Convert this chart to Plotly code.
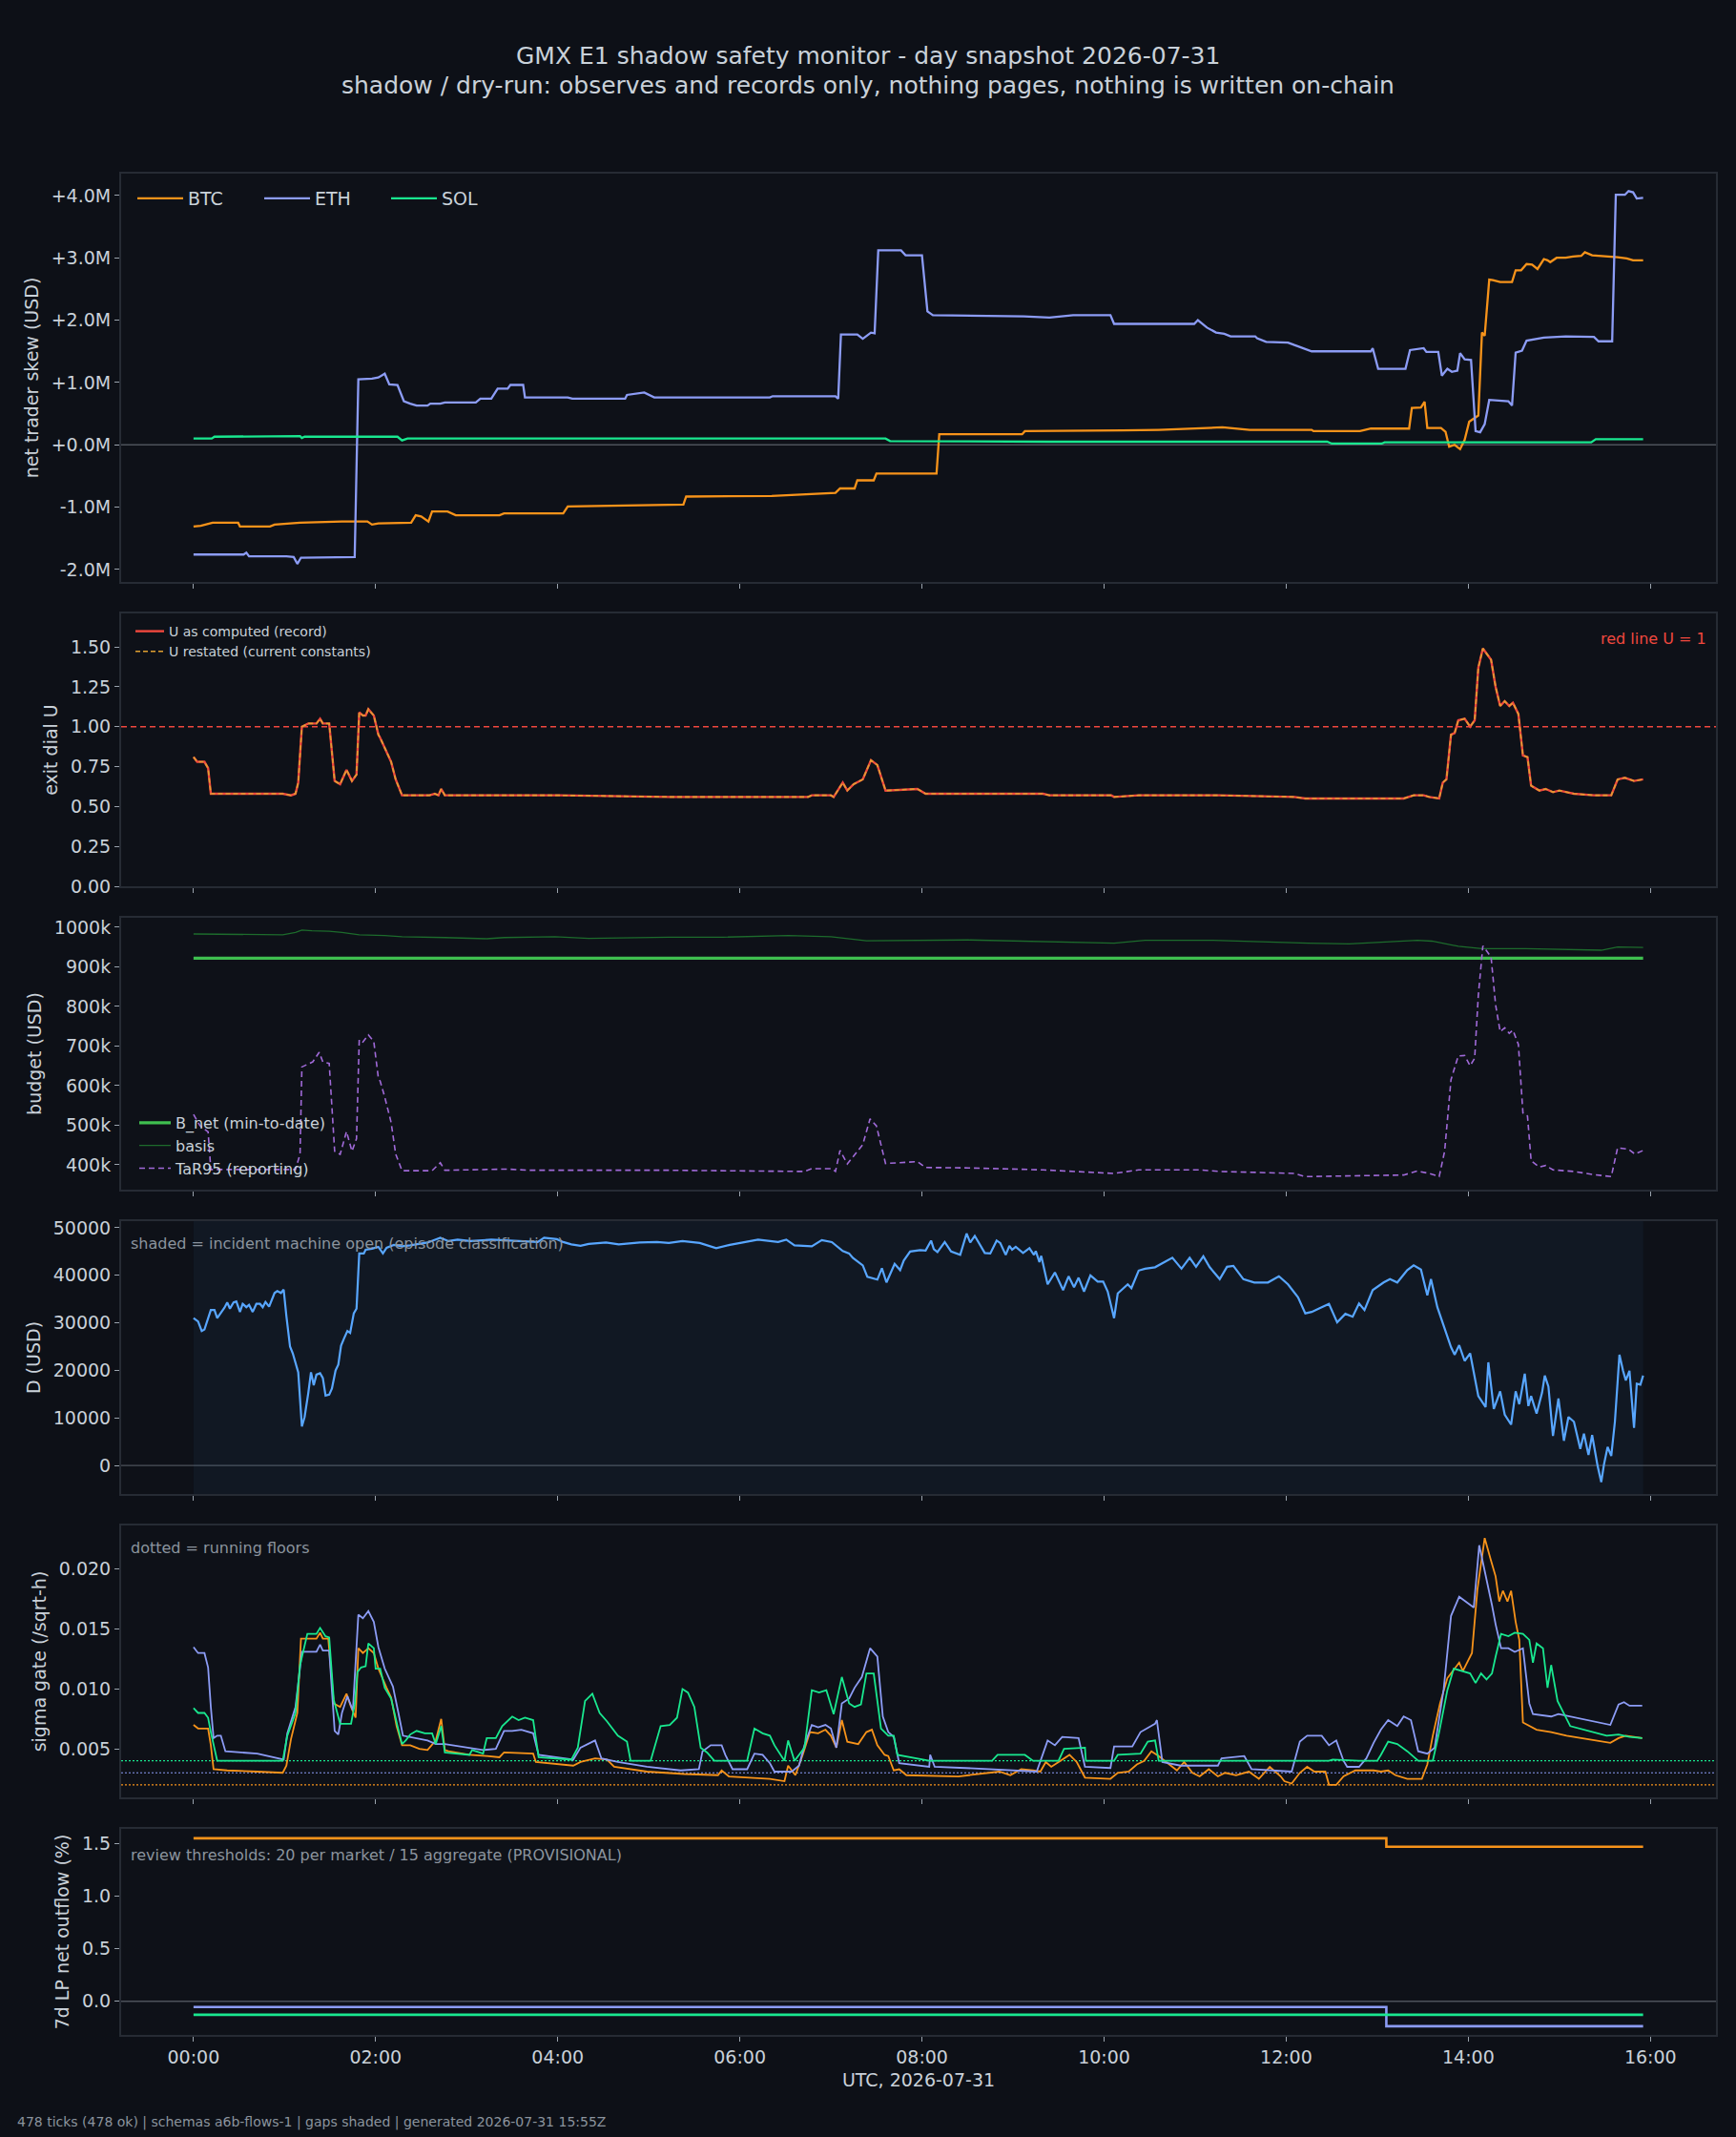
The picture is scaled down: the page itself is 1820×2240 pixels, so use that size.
import pandas as pd
import plotly.graph_objects as go

# ---------------- data (hours since 00:00 UTC, value) ----------------
BASE = pd.Timestamp("2026-07-31 00:00:00")

skew_btc = [(0.00,-1.31),(0.08,-1.30),(0.21,-1.25),(0.49,-1.25),(0.51,-1.31),(0.84,-1.31),(0.89,-1.28),(1.17,-1.25),(1.63,-1.23),(1.91,-1.23),(1.96,-1.28),(2.03,-1.26),(2.39,-1.25),(2.44,-1.13),(2.50,-1.15),(2.58,-1.23),(2.62,-1.07),(2.79,-1.07),(2.88,-1.13),(3.36,-1.13),(3.41,-1.10),(4.06,-1.10),(4.11,-0.99),(5.38,-0.96),(5.41,-0.83),(6.35,-0.82),(7.05,-0.77),(7.10,-0.70),(7.26,-0.70),(7.29,-0.57),(7.47,-0.57),(7.50,-0.46),(8.16,-0.46),(8.19,0.17),(9.10,0.17),(9.13,0.22),(10.20,0.23),(10.60,0.24),(11.30,0.28),(11.60,0.24),(12.28,0.24),(12.30,0.22),(12.81,0.22),(12.93,0.26),(13.35,0.26),(13.38,0.59),(13.48,0.60),(13.52,0.69),(13.55,0.27),(13.70,0.27),(13.75,0.21),(13.79,-0.03),(13.85,0.00),(13.91,-0.07),(13.96,0.08),(14.01,0.37),(14.11,0.47),(14.15,1.80),(14.18,1.75),(14.23,2.65),(14.27,2.64),(14.35,2.61),(14.48,2.61),(14.52,2.80),(14.58,2.80),(14.64,2.90),(14.70,2.89),(14.76,2.82),(14.83,2.98),(14.87,2.96),(14.90,2.93),(14.97,3.00),(15.07,3.00),(15.15,3.02),(15.24,3.03),(15.28,3.09),(15.36,3.04),(15.50,3.03),(15.64,3.01),(15.74,2.99),(15.81,2.96),(15.92,2.96)]
skew_eth = [(0.00,-1.76),(0.55,-1.76),(0.58,-1.73),(0.61,-1.79),(1.02,-1.79),(1.10,-1.80),(1.14,-1.91),(1.18,-1.81),(1.77,-1.80),(1.81,1.05),(1.96,1.06),(2.03,1.08),(2.10,1.14),(2.15,0.97),(2.24,0.96),(2.31,0.70),(2.38,0.66),(2.45,0.63),(2.57,0.63),(2.60,0.66),(2.71,0.66),(2.76,0.68),(3.10,0.68),(3.15,0.74),(3.27,0.74),(3.34,0.90),(3.45,0.90),(3.48,0.96),(3.62,0.96),(3.64,0.76),(4.11,0.76),(4.16,0.74),(4.74,0.74),(4.76,0.80),(4.95,0.84),(5.06,0.76),(6.33,0.76),(6.36,0.78),(7.05,0.78),(7.08,0.74),(7.11,1.77),(7.29,1.77),(7.35,1.70),(7.44,1.80),(7.48,1.79),(7.52,3.12),(7.77,3.12),(7.82,3.04),(8.00,3.04),(8.06,2.14),(8.12,2.08),(9.12,2.06),(9.40,2.04),(9.66,2.08),(10.07,2.08),(10.11,1.94),(10.99,1.94),(11.03,2.00),(11.13,1.88),(11.23,1.80),(11.32,1.78),(11.39,1.74),(11.66,1.74),(11.68,1.71),(11.78,1.65),(12.02,1.64),(12.09,1.60),(12.18,1.55),(12.28,1.50),(12.93,1.50),(12.95,1.55),(13.01,1.22),(13.31,1.22),(13.36,1.52),(13.51,1.55),(13.54,1.49),(13.67,1.49),(13.71,1.11),(13.77,1.22),(13.82,1.17),(13.88,1.19),(13.91,1.47),(13.96,1.37),(14.03,1.36),(14.08,0.22),(14.13,0.20),(14.18,0.33),(14.23,0.72),(14.44,0.70),(14.48,0.63),(14.52,1.48),(14.59,1.51),(14.64,1.67),(14.83,1.72),(15.07,1.74),(15.38,1.73),(15.43,1.66),(15.58,1.66),(15.62,4.01),(15.72,4.01),(15.76,4.07),(15.81,4.05),(15.85,3.95),(15.92,3.96)]
skew_sol = [(0.00,0.10),(0.20,0.10),(0.23,0.13),(1.17,0.14),(1.19,0.11),(1.22,0.13),(2.24,0.13),(2.29,0.07),(2.35,0.10),(5.20,0.10),(7.60,0.10),(7.65,0.06),(9.40,0.05),(12.45,0.05),(12.50,0.02),(13.05,0.02),(13.08,0.04),(15.35,0.04),(15.40,0.09),(15.92,0.09)]

exit_u = [(0.00,0.81),(0.04,0.78),(0.12,0.78),(0.16,0.74),(0.19,0.58),(0.98,0.58),(1.07,0.57),(1.12,0.58),(1.15,0.65),(1.19,1.00),(1.26,1.02),(1.35,1.02),(1.39,1.05),(1.42,1.02),(1.49,1.02),(1.55,0.66),(1.61,0.64),(1.68,0.73),(1.74,0.66),(1.79,0.70),(1.82,1.09),(1.86,1.07),(1.89,1.07),(1.92,1.11),(1.98,1.07),(2.03,0.95),(2.05,0.93),(2.10,0.87),(2.17,0.78),(2.22,0.67),(2.29,0.57),(2.59,0.57),(2.65,0.58),(2.69,0.57),(2.72,0.61),(2.76,0.57),(3.50,0.57),(4.02,0.57),(5.22,0.56),(6.75,0.56),(6.79,0.57),(7.00,0.57),(7.03,0.56),(7.13,0.65),(7.18,0.60),(7.25,0.64),(7.35,0.67),(7.44,0.79),(7.51,0.76),(7.60,0.60),(7.95,0.61),(8.04,0.58),(9.33,0.58),(9.40,0.57),(10.08,0.57),(10.11,0.56),(10.38,0.57),(11.05,0.57),(11.27,0.57),(12.09,0.56),(12.21,0.55),(13.29,0.55),(13.40,0.57),(13.51,0.57),(13.57,0.56),(13.68,0.55),(13.72,0.65),(13.76,0.67),(13.81,0.95),(13.85,0.96),(13.89,1.04),(13.96,1.05),(14.02,1.00),(14.07,1.04),(14.11,1.37),(14.16,1.49),(14.25,1.42),(14.30,1.25),(14.35,1.13),(14.40,1.16),(14.45,1.13),(14.49,1.15),(14.55,1.08),(14.60,0.82),(14.65,0.81),(14.69,0.63),(14.78,0.60),(14.85,0.61),(14.93,0.59),(15.00,0.60),(15.16,0.58),(15.38,0.57),(15.57,0.57),(15.64,0.67),(15.72,0.68),(15.82,0.66),(15.92,0.67)]
exit_u_restated = list(exit_u)

budget_bnet = [(0.00,922),(15.92,922)]
budget_basis = [(0.00,983),(0.98,981),(1.12,987),(1.19,993),(1.30,991),(1.49,990),(1.63,987),(1.82,981),(2.10,979),(2.29,976),(2.76,974),(3.22,971),(3.41,974),(3.97,976),(4.34,972),(5.22,975),(5.82,975),(6.53,979),(7.00,976),(7.39,966),(8.51,968),(9.37,964),(10.11,960),(10.45,967),(11.20,967),(12.24,960),(12.69,958),(13.44,967),(13.60,965),(13.89,952),(14.15,946),(14.63,946),(15.46,942),(15.64,950),(15.92,949)]
budget_tar95 = [(0.00,527),(0.07,499),(0.16,483),(0.19,388),(1.12,388),(1.17,427),(1.19,647),(1.31,660),(1.38,684),(1.42,660),(1.49,656),(1.55,434),(1.61,426),(1.68,484),(1.74,434),(1.79,466),(1.82,716),(1.86,710),(1.92,728),(1.98,711),(2.03,619),(2.05,611),(2.10,571),(2.17,507),(2.22,427),(2.29,385),(2.62,385),(2.71,405),(2.76,386),(3.32,387),(3.45,389),(3.69,386),(5.22,386),(6.71,383),(6.79,390),(7.01,390),(7.05,383),(7.10,436),(7.18,402),(7.25,422),(7.35,451),(7.43,516),(7.50,498),(7.60,403),(7.95,408),(8.04,393),(8.51,392),(9.33,387),(10.11,378),(10.38,387),(11.05,387),(11.27,383),(12.09,378),(12.21,370),(13.29,374),(13.44,384),(13.57,378),(13.68,370),(13.74,434),(13.81,615),(13.89,675),(13.96,676),(14.02,650),(14.07,669),(14.11,828),(14.16,953),(14.25,925),(14.30,804),(14.35,736),(14.40,746),(14.45,732),(14.49,740),(14.55,704),(14.60,531),(14.65,523),(14.69,410),(14.78,394),(14.85,398),(14.93,387),(15.16,383),(15.38,375),(15.57,370),(15.64,443),(15.76,439),(15.83,427),(15.92,436)]

d_usd = [(0.00,31000),(0.05,30300),(0.09,28300),(0.12,28600),(0.19,32700),(0.23,32700),(0.26,31000),(0.30,32000),(0.34,33200),(0.37,34300),(0.40,33000),(0.44,34300),(0.47,34500),(0.51,32300),(0.54,34000),(0.58,33300),(0.61,33800),(0.65,32300),(0.69,34000),(0.73,34000),(0.76,33300),(0.79,34400),(0.83,33400),(0.89,36300),(0.92,36700),(0.96,36300),(0.99,37000),(1.02,31400),(1.06,25000),(1.09,23600),(1.15,19600),(1.19,8200),(1.22,10200),(1.26,15200),(1.29,19600),(1.32,16900),(1.35,19100),(1.39,19400),(1.42,18400),(1.45,14700),(1.49,14900),(1.52,16200),(1.56,20000),(1.59,21200),(1.62,25200),(1.65,26600),(1.69,28300),(1.72,27900),(1.76,32000),(1.79,33000),(1.82,44600),(1.87,44600),(1.89,45400),(1.96,45600),(2.03,46000),(2.08,44600),(2.12,45800),(2.20,46400),(2.29,46100),(2.38,46300),(2.57,46900),(2.71,47900),(2.80,47200),(2.90,47500),(3.04,47200),(3.27,47500),(3.50,47300),(3.78,47000),(3.85,47900),(3.99,47600),(4.06,47000),(4.15,46500),(4.25,46200),(4.34,46600),(4.53,46900),(4.67,46500),(4.90,46900),(5.09,47000),(5.22,46800),(5.37,47200),(5.56,46800),(5.74,45700),(5.89,46400),(6.12,47200),(6.20,47500),(6.42,47000),(6.51,47500),(6.60,46300),(6.79,46100),(6.90,47400),(7.01,47000),(7.13,45100),(7.20,44600),(7.24,43700),(7.35,42100),(7.40,39700),(7.46,39400),(7.51,39100),(7.56,41500),(7.61,38500),(7.70,42400),(7.76,41100),(7.80,43100),(7.87,45000),(7.98,45300),(8.04,45200),(8.10,47300),(8.13,45500),(8.17,44900),(8.25,47000),(8.32,45000),(8.42,44300),(8.49,48800),(8.53,46900),(8.58,48300),(8.69,44700),(8.75,44600),(8.82,47300),(8.86,46800),(8.92,44300),(8.96,46200),(8.99,45400),(9.03,46000),(9.11,44700),(9.18,45700),(9.23,44300),(9.25,45100),(9.29,42800),(9.31,44100),(9.38,38100),(9.46,40600),(9.50,38800),(9.55,36900),(9.61,39800),(9.67,37500),(9.72,39500),(9.78,36600),(9.85,40000),(9.93,38700),(9.99,38700),(10.04,36600),(10.11,31000),(10.15,36200),(10.26,38100),(10.30,37300),(10.38,41000),(10.45,41400),(10.56,41700),(10.63,42400),(10.75,43700),(10.85,41400),(10.94,43700),(11.01,41800),(11.09,44000),(11.16,41700),(11.27,39200),(11.35,41800),(11.42,42000),(11.53,39200),(11.65,38500),(11.80,38500),(11.92,39800),(12.02,38100),(12.13,35400),(12.21,32000),(12.28,32300),(12.39,33300),(12.47,34000),(12.56,30100),(12.65,31900),(12.73,31300),(12.80,34100),(12.86,32700),(12.95,36900),(13.07,38500),(13.14,39200),(13.22,38500),(13.33,41100),(13.40,42100),(13.48,41200),(13.55,35800),(13.59,39200),(13.66,33300),(13.74,29000),(13.81,24900),(13.85,23300),(13.90,25300),(13.96,22000),(14.02,23600),(14.11,14600),(14.19,12300),(14.22,21700),(14.28,11900),(14.35,15600),(14.40,10700),(14.47,8600),(14.52,15600),(14.56,12900),(14.62,19300),(14.66,12500),(14.69,14600),(14.75,10900),(14.81,15300),(14.84,18900),(14.88,16600),(14.93,6200),(14.99,14100),(15.05,5200),(15.10,10200),(15.16,9200),(15.23,3500),(15.27,6700),(15.32,2200),(15.36,6400),(15.42,-100),(15.46,-3500),(15.49,200),(15.53,3900),(15.57,2000),(15.61,9200),(15.66,23300),(15.70,19900),(15.73,17900),(15.77,19900),(15.82,7900),(15.85,17200),(15.89,17000),(15.92,18900)]
incident_open = (0.00, 15.92)

sigma_btc = [(0.00,0.0070),(0.05,0.0067),(0.16,0.0067),(0.19,0.0053),(0.22,0.0033),(0.37,0.0032),(0.70,0.0031),(0.98,0.0030),(1.02,0.0036),(1.07,0.0058),(1.14,0.0080),(1.18,0.0142),(1.35,0.0142),(1.39,0.0147),(1.42,0.0142),(1.48,0.0142),(1.54,0.0088),(1.61,0.0085),(1.68,0.0096),(1.73,0.0085),(1.78,0.0076),(1.81,0.0134),(1.86,0.0130),(1.92,0.0134),(1.98,0.0130),(2.03,0.0117),(2.12,0.0101),(2.17,0.0093),(2.23,0.0069),(2.29,0.0053),(2.38,0.0053),(2.48,0.0050),(2.57,0.0049),(2.66,0.0057),(2.72,0.0075),(2.76,0.0049),(2.80,0.0048),(3.03,0.0045),(3.22,0.0044),(3.36,0.0043),(3.41,0.0047),(3.73,0.0046),(3.76,0.0039),(4.17,0.0036),(4.25,0.0039),(4.41,0.0042),(4.54,0.0041),(4.62,0.0035),(4.98,0.0031),(5.39,0.0029),(5.76,0.0028),(5.80,0.0032),(5.88,0.0027),(6.33,0.0025),(6.49,0.0023),(6.53,0.0036),(6.61,0.0028),(6.69,0.0045),(6.77,0.0064),(6.86,0.0063),(6.94,0.0066),(7.00,0.0061),(7.06,0.0051),(7.12,0.0074),(7.18,0.0056),(7.30,0.0054),(7.39,0.0064),(7.45,0.0066),(7.51,0.0053),(7.59,0.0045),(7.63,0.0044),(7.69,0.0032),(7.75,0.0033),(7.83,0.0028),(8.40,0.0027),(8.73,0.0030),(8.85,0.0031),(8.97,0.0028),(9.09,0.0033),(9.22,0.0032),(9.30,0.0031),(9.36,0.0039),(9.42,0.0035),(9.50,0.0039),(9.58,0.0043),(9.62,0.0045),(9.70,0.0039),(9.79,0.0026),(10.07,0.0025),(10.15,0.0030),(10.27,0.0031),(10.36,0.0037),(10.44,0.0040),(10.52,0.0048),(10.60,0.0044),(10.68,0.0039),(10.80,0.0032),(10.88,0.0039),(10.97,0.0030),(11.05,0.0027),(11.15,0.0033),(11.25,0.0027),(11.33,0.0030),(11.45,0.0028),(11.59,0.0031),(11.70,0.0025),(11.82,0.0035),(11.94,0.0027),(11.98,0.0023),(12.06,0.0021),(12.15,0.0030),(12.23,0.0035),(12.31,0.0031),(12.43,0.0031),(12.47,0.0020),(12.55,0.0020),(12.63,0.0027),(12.76,0.0032),(12.88,0.0032),(12.96,0.0032),(13.04,0.0031),(13.12,0.0032),(13.20,0.0028),(13.33,0.0025),(13.49,0.0025),(13.55,0.0037),(13.61,0.0061),(13.69,0.0088),(13.77,0.0109),(13.90,0.0122),(13.94,0.0115),(14.00,0.0124),(14.04,0.0130),(14.10,0.0183),(14.18,0.0226),(14.25,0.0207),(14.30,0.0194),(14.34,0.0173),(14.38,0.0182),(14.43,0.0173),(14.47,0.0182),(14.52,0.0156),(14.56,0.0141),(14.60,0.0072),(14.67,0.0069),(14.75,0.0066),(14.91,0.0064),(15.08,0.0061),(15.32,0.0058),(15.56,0.0055),(15.65,0.0059),(15.73,0.0061),(15.91,0.0059)]
sigma_eth = [(0.00,0.0135),(0.05,0.0130),(0.12,0.0130),(0.16,0.0118),(0.19,0.0085),(0.22,0.0059),(0.26,0.0061),(0.30,0.0061),(0.35,0.0048),(0.70,0.0046),(0.99,0.0041),(1.03,0.0063),(1.12,0.0085),(1.17,0.0119),(1.19,0.0131),(1.35,0.0131),(1.39,0.0137),(1.42,0.0132),(1.49,0.0132),(1.55,0.0065),(1.59,0.0062),(1.63,0.0080),(1.69,0.0094),(1.75,0.0082),(1.81,0.0162),(1.86,0.0159),(1.92,0.0165),(1.98,0.0156),(2.03,0.0135),(2.10,0.0117),(2.19,0.0102),(2.25,0.0080),(2.30,0.0061),(2.57,0.0057),(2.66,0.0054),(2.76,0.0054),(3.18,0.0049),(3.32,0.0050),(3.41,0.0065),(3.50,0.0065),(3.60,0.0066),(3.73,0.0063),(3.79,0.0045),(4.17,0.0041),(4.25,0.0051),(4.33,0.0054),(4.41,0.0057),(4.48,0.0042),(4.66,0.0039),(4.98,0.0035),(5.35,0.0032),(5.55,0.0033),(5.59,0.0048),(5.68,0.0053),(5.80,0.0053),(5.84,0.0045),(5.92,0.0033),(6.08,0.0033),(6.16,0.0046),(6.25,0.0045),(6.33,0.0038),(6.38,0.0031),(6.57,0.0031),(6.65,0.0036),(6.71,0.0053),(6.79,0.0070),(6.86,0.0068),(6.94,0.0070),(7.00,0.0067),(7.06,0.0051),(7.12,0.0088),(7.20,0.0092),(7.26,0.0101),(7.34,0.0110),(7.43,0.0134),(7.51,0.0127),(7.57,0.0077),(7.63,0.0064),(7.69,0.0060),(7.75,0.0038),(8.08,0.0035),(8.09,0.0045),(8.14,0.0035),(8.48,0.0034),(8.77,0.0033),(9.05,0.0032),(9.26,0.0031),(9.38,0.0057),(9.46,0.0053),(9.54,0.0060),(9.72,0.0059),(9.79,0.0035),(10.07,0.0034),(10.11,0.0052),(10.31,0.0052),(10.40,0.0064),(10.56,0.0071),(10.58,0.0074),(10.64,0.0039),(10.84,0.0036),(11.25,0.0036),(11.29,0.0042),(11.54,0.0044),(11.62,0.0033),(12.06,0.0031),(12.15,0.0056),(12.23,0.0061),(12.39,0.0061),(12.47,0.0053),(12.55,0.0057),(12.63,0.0040),(12.67,0.0035),(12.80,0.0035),(12.88,0.0042),(12.96,0.0055),(13.04,0.0066),(13.12,0.0074),(13.22,0.0069),(13.29,0.0077),(13.37,0.0074),(13.45,0.0048),(13.55,0.0046),(13.63,0.0051),(13.73,0.0100),(13.81,0.0161),(13.90,0.0177),(14.02,0.0170),(14.06,0.0168),(14.12,0.0220),(14.18,0.0199),(14.26,0.0170),(14.30,0.0154),(14.36,0.0134),(14.44,0.0134),(14.51,0.0131),(14.60,0.0134),(14.67,0.0088),(14.71,0.0079),(14.83,0.0078),(14.91,0.0077),(14.99,0.0079),(15.12,0.0077),(15.32,0.0074),(15.56,0.0070),(15.65,0.0087),(15.71,0.0089),(15.77,0.0086),(15.91,0.0086)]
sigma_sol = [(0.00,0.0084),(0.05,0.0080),(0.12,0.0080),(0.16,0.0076),(0.19,0.0064),(0.26,0.0040),(0.98,0.0040),(1.03,0.0061),(1.12,0.0080),(1.17,0.0120),(1.25,0.0146),(1.35,0.0146),(1.39,0.0151),(1.45,0.0144),(1.49,0.0143),(1.54,0.0091),(1.61,0.0071),(1.73,0.0071),(1.77,0.0087),(1.80,0.0114),(1.84,0.0118),(1.89,0.0119),(1.92,0.0138),(1.98,0.0134),(2.00,0.0117),(2.05,0.0117),(2.10,0.0101),(2.17,0.0092),(2.24,0.0069),(2.29,0.0054),(2.33,0.0057),(2.38,0.0062),(2.45,0.0065),(2.54,0.0063),(2.62,0.0063),(2.66,0.0054),(2.72,0.0069),(2.76,0.0047),(3.03,0.0045),(3.06,0.0049),(3.18,0.0046),(3.22,0.0059),(3.32,0.0059),(3.39,0.0069),(3.50,0.0077),(3.57,0.0074),(3.64,0.0076),(3.73,0.0074),(3.79,0.0043),(4.15,0.0041),(4.22,0.0051),(4.30,0.0090),(4.38,0.0096),(4.46,0.0080),(4.54,0.0073),(4.66,0.0061),(4.76,0.0056),(4.80,0.0040),(5.02,0.0040),(5.13,0.0069),(5.23,0.0070),(5.31,0.0076),(5.37,0.0100),(5.43,0.0097),(5.50,0.0085),(5.57,0.0051),(5.64,0.0047),(5.72,0.0040),(6.08,0.0040),(6.16,0.0067),(6.25,0.0063),(6.33,0.0061),(6.38,0.0053),(6.49,0.0040),(6.53,0.0057),(6.60,0.0040),(6.71,0.0051),(6.79,0.0099),(6.87,0.0097),(6.95,0.0099),(7.03,0.0079),(7.12,0.0110),(7.20,0.0088),(7.26,0.0085),(7.33,0.0087),(7.39,0.0113),(7.47,0.0113),(7.55,0.0067),(7.63,0.0061),(7.69,0.0061),(7.73,0.0045),(8.08,0.0040),(8.77,0.0040),(8.83,0.0045),(9.13,0.0045),(9.22,0.0040),(9.50,0.0040),(9.56,0.0050),(9.79,0.0051),(9.80,0.0040),(10.11,0.0040),(10.15,0.0045),(10.40,0.0046),(10.48,0.0056),(10.56,0.0057),(10.60,0.0040),(12.47,0.0040),(12.51,0.0041),(12.80,0.0040),(13.00,0.0040),(13.04,0.0045),(13.12,0.0056),(13.22,0.0054),(13.33,0.0048),(13.45,0.0040),(13.61,0.0040),(13.68,0.0064),(13.77,0.0099),(13.84,0.0117),(13.94,0.0115),(14.02,0.0113),(14.08,0.0105),(14.14,0.0113),(14.20,0.0108),(14.26,0.0113),(14.30,0.0127),(14.36,0.0146),(14.44,0.0144),(14.51,0.0147),(14.60,0.0146),(14.67,0.0141),(14.71,0.0122),(14.75,0.0138),(14.82,0.0134),(14.87,0.0101),(14.91,0.0120),(14.98,0.0090),(15.12,0.0069),(15.32,0.0065),(15.52,0.0061),(15.65,0.0062),(15.77,0.0060),(15.91,0.0059)]
sigma_floors = {"BTC": 0.0020, "ETH": 0.0030, "SOL": 0.0040}

outflow_btc = [(0.00,1.55),(13.10,1.47),(15.92,1.47)]
outflow_eth = [(0.00,-0.055),(13.10,-0.237),(15.92,-0.237)]
outflow_sol = [(0.00,-0.128),(15.92,-0.128)]

markets = ["BTC", "ETH", "SOL"]
skew_ticks = [-2, -1, 0, 1, 2, 3, 4]
skew_ticklabels = ["-2.0M", "-1.0M", "+0.0M", "+1.0M", "+2.0M", "+3.0M", "+4.0M"]
budget_ticks = [400, 500, 600, 700, 800, 900, 1000]
budget_ticklabels = ["400k", "500k", "600k", "700k", "800k", "900k", "1000k"]
time_ticks = ["00:00", "02:00", "04:00", "06:00", "08:00", "10:00", "12:00", "14:00", "16:00"]

# ---------------- styling ----------------
FONT = "DejaVu Sans"
BG = "#0d1017"
PLOT_BG = "#0e1118"
FRAME = "#262b34"
TEXT = "#c9d1d9"
MUTED = "#8b949e"
ZERO = "#4d525a"
C = {"BTC": "#f7931a", "ETH": "#8c9cf5", "SOL": "#19e88f"}
W, H = 1820, 2240


def tx(pairs):
    return [BASE + pd.Timedelta(hours=h) for h, _ in pairs]


def ty(pairs):
    return [v for _, v in pairs]


def pfy(px):
    return 1 - px / H


def pfx(px):
    return px / W


X_DOM = [pfx(127), pfx(1799)]
panels = [(182, 610), (643, 929), (962, 1247), (1280, 1566), (1599, 1884), (1917, 2133)]
x_range = [BASE - pd.Timedelta(hours=0.795), BASE + pd.Timedelta(hours=16.72)]

fig = go.Figure()

# panel 1: skew
for name, data in zip(markets, [skew_btc, skew_eth, skew_sol]):
    fig.add_trace(go.Scatter(x=tx(data), y=ty(data), mode="lines", name=name,
                             line=dict(color=C[name], width=2.3), xaxis="x", yaxis="y",
                             legend="legend"))

# panel 2: exit dial
fig.add_trace(go.Scatter(x=tx(exit_u), y=ty(exit_u), mode="lines", name="U as computed (record)",
                         line=dict(color="#f0483e", width=2.4), xaxis="x2", yaxis="y2", legend="legend2"))
fig.add_trace(go.Scatter(x=tx(exit_u_restated), y=ty(exit_u_restated), mode="lines",
                         name="U restated (current constants)",
                         line=dict(color="#e0a030", width=1.6, dash="5px,3px"), xaxis="x2", yaxis="y2",
                         legend="legend2"))

# panel 3: budget
fig.add_trace(go.Scatter(x=tx(budget_bnet), y=ty(budget_bnet), mode="lines", name="B_net (min-to-date)",
                         line=dict(color="#3fbf4f", width=3.2), xaxis="x3", yaxis="y3", legend="legend3"))
fig.add_trace(go.Scatter(x=tx(budget_basis), y=ty(budget_basis), mode="lines", name="basis",
                         line=dict(color="#1d6b2c", width=1.3), xaxis="x3", yaxis="y3", legend="legend3"))
fig.add_trace(go.Scatter(x=tx(budget_tar95), y=ty(budget_tar95), mode="lines", name="TaR95 (reporting)",
                         line=dict(color="#a06ad8", width=1.6, dash="6px,4px"), xaxis="x3", yaxis="y3",
                         legend="legend3"))

# panel 4: D
fig.add_trace(go.Scatter(x=tx(d_usd), y=ty(d_usd), mode="lines", name="D",
                         line=dict(color="#58a6ff", width=2.2), xaxis="x4", yaxis="y4", showlegend=False))

# panel 5: sigma
for name, data in zip(markets, [sigma_btc, sigma_eth, sigma_sol]):
    fig.add_trace(go.Scatter(x=tx(data), y=ty(data), mode="lines", name=name,
                             line=dict(color=C[name], width=1.8), xaxis="x5", yaxis="y5", showlegend=False))

# panel 6: outflow
for name, data in zip(markets, [outflow_btc, outflow_eth, outflow_sol]):
    fig.add_trace(go.Scatter(x=tx(data), y=ty(data), mode="lines", name=name, line_shape="hv",
                             line=dict(color=C[name], width=2.6), xaxis="x6", yaxis="y6", showlegend=False))

shapes = []
for ax in ["", "4", "6"]:
    shapes.append(dict(type="line", xref=f"x{ax} domain", yref=f"y{ax}", x0=0, x1=1, y0=0, y1=0,
                       line=dict(color=ZERO, width=1.3), layer="below"))
shapes.append(dict(type="line", xref="x2 domain", yref="y2", x0=0, x1=1, y0=1, y1=1,
                   line=dict(color="#f0483e", width=1.6, dash="6px,4px"), layer="below"))
shapes.append(dict(type="rect", xref="x4", yref="y4 domain",
                   x0=BASE + pd.Timedelta(hours=incident_open[0]), x1=BASE + pd.Timedelta(hours=incident_open[1]),
                   y0=0, y1=1, fillcolor="rgba(70,140,220,0.06)", line=dict(width=0), layer="below"))
for name in markets:
    shapes.append(dict(type="line", xref="x5 domain", yref="y5", x0=0, x1=1,
                       y0=sigma_floors[name], y1=sigma_floors[name],
                       line=dict(color=C[name], width=1.2, dash="2px,2px"), layer="below"))

axis_common = dict(showline=True, mirror=True, linecolor=FRAME, linewidth=2, showgrid=False, zeroline=False,
                   ticks="outside", ticklen=5, tickwidth=1.2, tickcolor="#9aa3ad", automargin=False,
                   tickfont=dict(family=FONT, size=19, color=TEXT))

layout = dict(width=W, height=H, paper_bgcolor=BG, plot_bgcolor=PLOT_BG,
              margin=dict(l=0, r=0, t=0, b=0, pad=0, autoexpand=False),
              font=dict(family=FONT, color=TEXT), showlegend=True, shapes=shapes)

y_specs = [
    dict(title="net trader skew (USD)", range=[-2.2, 4.35], tickvals=skew_ticks, ticktext=skew_ticklabels),
    dict(title="exit dial U", range=[0, 1.71], tickvals=[0, 0.25, 0.5, 0.75, 1.0, 1.25, 1.5], tickformat=".2f"),
    dict(title="budget (USD)", range=[337, 1024], tickvals=budget_ticks, ticktext=budget_ticklabels),
    dict(title="D (USD)", range=[-6000, 51400], tickvals=[0, 10000, 20000, 30000, 40000, 50000], tickformat="d"),
    dict(title="sigma gate (/sqrt-h)", range=[0.00095, 0.02365], tickvals=[0.005, 0.010, 0.015, 0.020], tickformat=".3f"),
    dict(title="7d LP net outflow (%)", range=[-0.32, 1.64], tickvals=[0.0, 0.5, 1.0, 1.5], tickformat=".1f"),
]

for i, ((top, bot), spec) in enumerate(zip(panels, y_specs), start=1):
    sfx = "" if i == 1 else str(i)
    xa = dict(axis_common)
    xa.update(domain=X_DOM, anchor=f"y{sfx}", range=x_range, type="date",
              tickvals=[BASE + pd.Timedelta(hours=2 * k) for k in range(len(time_ticks))],
              ticktext=time_ticks, showticklabels=(i == 6))
    if i == 6:
        xa["title"] = dict(text="UTC, 2026-07-31", font=dict(family=FONT, size=19, color=TEXT), standoff=8)
    ya = dict(axis_common)
    title = spec.pop("title")
    ya.update(domain=[pfy(bot), pfy(top)], anchor=f"x{sfx}",
              title=dict(text=title, font=dict(family=FONT, size=19, color=TEXT), standoff=8), **spec)
    layout[f"xaxis{sfx}"] = xa
    layout[f"yaxis{sfx}"] = ya

layout["legend"] = dict(x=pfx(139), y=pfy(189), xanchor="left", yanchor="top", orientation="h",
                        bgcolor="rgba(0,0,0,0)", font=dict(family=FONT, size=19, color=TEXT),
                        entrywidth=70, itemwidth=48)
layout["legend2"] = dict(x=pfx(137), y=pfy(646), xanchor="left", yanchor="top", orientation="v",
                         bgcolor="rgba(0,0,0,0)", font=dict(family=FONT, size=14, color=TEXT),
                         tracegroupgap=0, itemwidth=30)
layout["legend3"] = dict(x=pfx(141), y=pfy(1160), xanchor="left", yanchor="top", orientation="v",
                         bgcolor="rgba(0,0,0,0)", font=dict(family=FONT, size=16, color=TEXT),
                         tracegroupgap=0, itemwidth=33)

ann = []
ann.append(dict(text="GMX E1 shadow safety monitor - day snapshot 2026-07-31", x=0.5, y=pfy(58),
                xref="paper", yref="paper", showarrow=False, font=dict(family=FONT, size=25, color=TEXT),
                xanchor="center", yanchor="middle"))
ann.append(dict(text="shadow / dry-run: observes and records only, nothing pages, nothing is written on-chain",
                x=0.5, y=pfy(89), xref="paper", yref="paper", showarrow=False,
                font=dict(family=FONT, size=25, color=TEXT), xanchor="center", yanchor="middle"))
ann.append(dict(text="red line U = 1", x=pfx(1791), y=pfy(670), xref="paper", yref="paper", showarrow=False,
                font=dict(family=FONT, size=16, color="#f0483e"), xanchor="right", yanchor="middle"))
ann.append(dict(text="shaded = incident machine open (episode classification)", x=pfx(135), y=pfy(1303),
                xref="paper", yref="paper", showarrow=False, font=dict(family=FONT, size=16, color=MUTED),
                xanchor="left", yanchor="middle"))
ann.append(dict(text="dotted = running floors", x=pfx(135), y=pfy(1622), xref="paper", yref="paper",
                showarrow=False, font=dict(family=FONT, size=16, color=MUTED), xanchor="left", yanchor="middle"))
ann.append(dict(text="review thresholds: 20 per market / 15 aggregate (PROVISIONAL)", x=pfx(135), y=pfy(1944),
                xref="paper", yref="paper", showarrow=False, font=dict(family=FONT, size=16, color=MUTED),
                xanchor="left", yanchor="middle"))
ann.append(dict(text="478 ticks (478 ok) | schemas a6b-flows-1 | gaps shaded | generated 2026-07-31 15:55Z",
                x=pfx(16), y=pfy(2224), xref="paper", yref="paper", showarrow=False,
                font=dict(family=FONT, size=14, color=MUTED), xanchor="left", yanchor="middle"))
layout["annotations"] = ann

fig.update_layout(**layout)
fig.write_html("out.html")
